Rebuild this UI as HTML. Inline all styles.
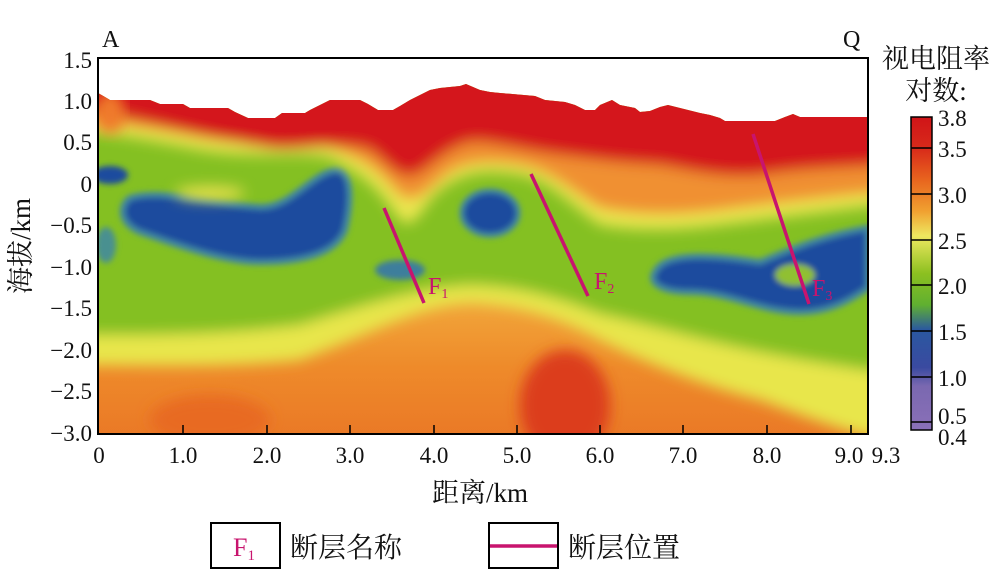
<!DOCTYPE html>
<html><head><meta charset="utf-8"><style>
body{margin:0;background:#fff;}
svg text{font-family:"Liberation Serif","Noto Serif CJK SC",serif;fill:#111;}
</style></head><body>
<svg width="1000" height="573" viewBox="0 0 1000 573" xmlns="http://www.w3.org/2000/svg">
<defs>
<clipPath id="topo"><polygon points="98,93 105,97 110,100 150,100 160,104 183,104 190,108 228,108 235,112 248,118 275,118 282,113 305,113 310,110 318,106 330,100 360,100 368,104 378,110 393,110 400,106 410,100 420,95 430,90 440,88 460,86 466,84 480,90 490,92 500,93 535,96 545,100 565,102 575,105 585,110 595,110 600,105 612,100 620,105 635,108 640,112 650,111 660,107 668,105 680,108 700,113 710,115 720,118 725,121 775,121 785,117 793,114 800,117 868,117 868,434 98,434"/></clipPath>
<filter id="b" x="-20%" y="-20%" width="140%" height="140%"><feGaussianBlur stdDeviation="7"/></filter>
<filter id="b2" x="-20%" y="-20%" width="140%" height="140%"><feGaussianBlur stdDeviation="3"/></filter>
<linearGradient id="cb" x1="0" y1="0" x2="0" y2="1">
<stop offset="0" stop-color="#d01418"/><stop offset="0.1" stop-color="#d82a1a"/><stop offset="0.2" stop-color="#e8641e"/><stop offset="0.3" stop-color="#f0a030"/><stop offset="0.38" stop-color="#eee860"/><stop offset="0.5" stop-color="#8cc020"/><stop offset="0.6" stop-color="#60b030"/><stop offset="0.68" stop-color="#2a58a0"/><stop offset="0.8" stop-color="#3a4aa0"/><stop offset="0.86" stop-color="#7a68b0"/><stop offset="1" stop-color="#8a70b8"/>
</linearGradient>
<linearGradient id="low" x1="0" y1="0" x2="0" y2="1">
<stop offset="0.55" stop-color="#f3b040"/><stop offset="0.8" stop-color="#ee8a2a"/><stop offset="1" stop-color="#ea7826"/>
</linearGradient>
</defs>
<g clip-path="url(#topo)">
<rect x="90" y="80" width="790" height="360" fill="url(#low)"/>
<g filter="url(#b)">
<ellipse cx="565" cy="405" rx="45" ry="55" fill="#dc3c1c"/>
<ellipse cx="210" cy="420" rx="60" ry="25" fill="#e86a24"/>
<path d="M80,70 L880,70 L880,440 C840,430 800,415 760,400 C700,385 640,360 600,340 C560,318 520,305 470,303 C420,305 380,330 300,360 C220,368 150,365 80,365Z" fill="#e8e64c"/>
<path d="M80,70 L880,70 L880,372 C840,366 800,360 760,352 C700,340 640,322 600,314 C560,298 520,286 470,285 C420,288 380,300 300,325 C220,335 150,335 80,335Z" fill="#84c024"/>
</g>
<g filter="url(#b2)">
<path d="M130,198 C160,188 220,205 260,207 C290,208 310,175 335,170 C352,168 352,200 345,230 C335,255 300,262 260,262 C220,262 170,242 140,232 C118,222 120,205 130,198Z" fill="#1f4c9e" stroke="#3f86a0" stroke-width="6"/>
<ellipse cx="110" cy="175" rx="18" ry="9" fill="#1f4c9e"/>
<ellipse cx="490" cy="213" rx="28" ry="22" fill="#1f4c9e" stroke="#3f86a0" stroke-width="5"/>
<ellipse cx="400" cy="270" rx="25" ry="10" fill="#3e7e9c"/>
<ellipse cx="106" cy="245" rx="10" ry="18" fill="#4a9090"/>
<path d="M655,272 C665,250 720,256 760,262 C790,250 820,236 868,228 L868,288 C850,300 830,312 800,312 C760,312 730,292 690,292 C660,292 648,282 655,272Z" fill="#1f4c9e" stroke="#3f86a0" stroke-width="6"/>
<ellipse cx="795" cy="275" rx="20" ry="11" fill="#90c030"/>
</g>
<g filter="url(#b)">
<path d="M80,70 L880,70 L880,205 C840,210 800,215 720,225 C680,230 640,232 600,225 C570,205 550,180 520,175 C490,170 460,168 430,200 C420,215 410,230 400,220 C385,200 375,180 330,158 C300,150 260,160 200,150 C150,140 120,135 80,130Z" fill="#eae650"/>
<ellipse cx="210" cy="193" rx="35" ry="7" fill="#e8e050"/>
<ellipse cx="420" cy="150" rx="80" ry="8" fill="#d8e050"/>
<path d="M80,70 L880,70 L880,192 C840,196 800,200 720,210 C680,215 640,216 600,208 C570,190 550,170 520,165 C490,160 460,160 440,180 C425,192 415,205 400,195 C385,180 375,162 330,148 C300,140 260,148 200,138 C150,128 120,125 80,122Z" fill="#f09030"/>
<path d="M80,70 L880,70 L880,165 C840,168 800,168 760,175 C720,178 690,170 660,165 C620,163 600,160 560,155 C520,150 490,140 470,142 C440,150 425,175 410,176 C395,176 385,160 370,150 C340,140 300,152 270,148 C220,140 180,130 100,112 L80,110Z" fill="#d4181a"/>
</g>
<ellipse cx="110" cy="112" rx="14" ry="22" fill="#f07a2a" filter="url(#b)"/>
</g>
<rect x="98" y="58" width="770" height="376" fill="none" stroke="#000" stroke-width="2"/>
<g stroke="#000" stroke-width="1.5">
<line x1="183" y1="434" x2="183" y2="425"/><line x1="267" y1="434" x2="267" y2="425"/><line x1="350" y1="434" x2="350" y2="425"/><line x1="434" y1="434" x2="434" y2="425"/><line x1="517" y1="434" x2="517" y2="425"/><line x1="600" y1="434" x2="600" y2="425"/><line x1="683" y1="434" x2="683" y2="425"/><line x1="767" y1="434" x2="767" y2="425"/><line x1="851" y1="434" x2="851" y2="425"/>
</g>
<g stroke="#c8146e" stroke-width="3.5">
<line x1="384" y1="208" x2="424" y2="303"/><line x1="531" y1="174" x2="588" y2="296"/><line x1="753" y1="134" x2="809" y2="304"/>
</g>
<g font-size="24">
<text x="428" y="294" style="fill:#c8146e">F<tspan font-size="14" dy="4">1</tspan></text>
<text x="594" y="289" style="fill:#c8146e">F<tspan font-size="14" dy="4">2</tspan></text>
<text x="812" y="296" style="fill:#c8146e">F<tspan font-size="14" dy="4">3</tspan></text>
</g>
<g font-size="23" text-anchor="end">
<text x="92" y="68">1.5</text><text x="92" y="109">1.0</text><text x="92" y="150">0.5</text><text x="92" y="192">0</text><text x="92" y="233">−0.5</text><text x="92" y="275">−1.0</text><text x="92" y="316">−1.5</text><text x="92" y="358">−2.0</text><text x="92" y="399">−2.5</text><text x="92" y="441">−3.0</text>
</g>
<g font-size="23" text-anchor="middle">
<text x="99" y="463">0</text><text x="183" y="463">1.0</text><text x="267" y="463">2.0</text><text x="350" y="463">3.0</text><text x="434" y="463">4.0</text><text x="517" y="463">5.0</text><text x="600" y="463">6.0</text><text x="683" y="463">7.0</text><text x="767" y="463">8.0</text><text x="849" y="463">9.0</text><text x="886" y="463">9.3</text>
</g>
<text x="480" y="502" font-size="27" text-anchor="middle">距离/km</text>
<text x="30" y="246" font-size="27" text-anchor="middle" transform="rotate(-90 30 246)">海拔/km</text>
<text x="102" y="47" font-size="24">A</text>
<text x="843" y="47" font-size="24">Q</text>
<text x="936" y="68" font-size="27" text-anchor="middle">视电阻率</text>
<text x="936" y="100" font-size="27" text-anchor="middle">对数:</text>
<rect x="911" y="117" width="21" height="313" fill="url(#cb)" stroke="#000" stroke-width="1.5"/>
<g stroke="#000" stroke-width="1.5">
<line x1="911" y1="148" x2="932" y2="148"/><line x1="911" y1="194" x2="932" y2="194"/><line x1="911" y1="240" x2="932" y2="240"/><line x1="911" y1="285" x2="932" y2="285"/><line x1="911" y1="331" x2="932" y2="331"/><line x1="911" y1="377" x2="932" y2="377"/><line x1="911" y1="422" x2="932" y2="422"/>
</g>
<g font-size="23">
<text x="938" y="126">3.8</text><text x="938" y="157">3.5</text><text x="938" y="203">3.0</text><text x="938" y="249">2.5</text><text x="938" y="294">2.0</text><text x="938" y="340">1.5</text><text x="938" y="386">1.0</text><text x="938" y="424">0.5</text><text x="938" y="445">0.4</text>
</g>
<rect x="211" y="523" width="69" height="45" fill="none" stroke="#000" stroke-width="2"/>
<text x="233" y="556" font-size="26" style="fill:#c8146e">F<tspan font-size="15" dy="4">1</tspan></text>
<text x="290" y="557" font-size="28">断层名称</text>
<rect x="489" y="523" width="69" height="45" fill="none" stroke="#000" stroke-width="2"/>
<line x1="490" y1="546" x2="557" y2="546" stroke="#c8146e" stroke-width="3.5"/>
<text x="568" y="557" font-size="28">断层位置</text>
</svg>
</body></html>
